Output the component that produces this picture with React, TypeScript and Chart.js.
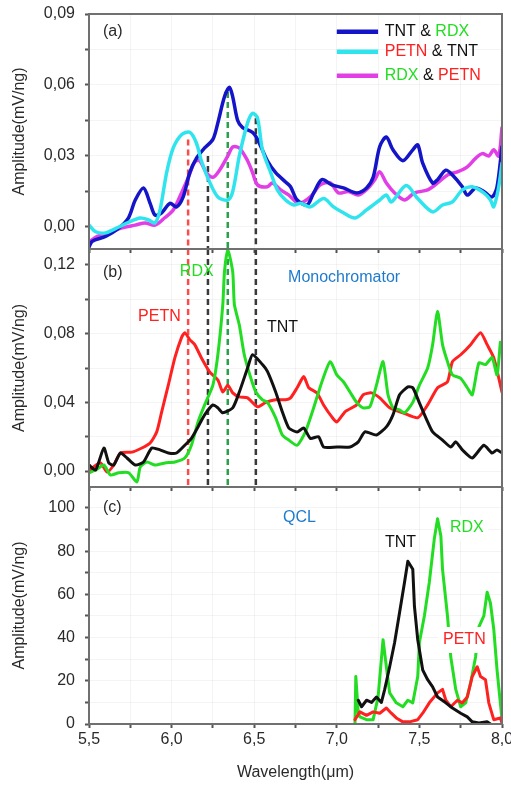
import React, { useEffect, useRef } from 'react';
import { Chart, registerables } from 'chart.js';

Chart.register(...registerables);

type Pt = [number, number];

// ---------- shared axis data ----------
const xRange: Pt = [5.5, 8.0];
const xTicks = [5.5, 5.75, 6.0, 6.25, 6.5, 6.75, 7.0, 7.25, 7.5, 7.75, 8.0];
const xTickLabels = ['5,5', '', '6,0', '', '6,5', '', '7,0', '', '7,5', '', '8,0'];
const xTitle = 'Wavelength(μm)';
const yTitle = 'Amplitude(mV/ng)';

// ---------- panel (a) ----------
const yRangeA: Pt = [-0.0093, 0.09];
const yTicksA = [0, 0.015, 0.03, 0.045, 0.06, 0.075, 0.09];
const yTickLabelsA = ['0,00', '', '0,03', '', '0,06', '', '0,09'];

const tntRdxA: Pt[] = [
  [5.50, -0.0085], [5.52, -0.006], [5.60, -0.004], [5.68, -0.0005], [5.74, 0.004], [5.78, 0.0114],
  [5.83, 0.0165], [5.87, 0.010], [5.90, 0.005], [5.94, 0.006], [5.99, 0.010], [6.03, 0.0085],
  [6.07, 0.0127], [6.11, 0.023], [6.15, 0.029], [6.20, 0.0334], [6.25, 0.037], [6.28, 0.044],
  [6.32, 0.055], [6.35, 0.059], [6.37, 0.055], [6.40, 0.045], [6.43, 0.042], [6.49, 0.040],
  [6.52, 0.037], [6.58, 0.028], [6.63, 0.023], [6.69, 0.019], [6.72, 0.017], [6.76, 0.0114],
  [6.82, 0.0093], [6.86, 0.0144], [6.91, 0.020], [6.97, 0.0178], [7.04, 0.0165], [7.12, 0.0144],
  [7.18, 0.0165], [7.22, 0.021], [7.26, 0.034], [7.30, 0.038], [7.34, 0.0326], [7.40, 0.028],
  [7.46, 0.0326], [7.49, 0.0347], [7.52, 0.027], [7.58, 0.0186], [7.61, 0.020], [7.66, 0.024],
  [7.70, 0.022], [7.76, 0.017], [7.79, 0.0135], [7.84, 0.0165], [7.89, 0.015], [7.94, 0.0127],
  [7.97, 0.017], [8.0, 0.034],
];
const petnTntA: Pt[] = [
  [5.50, 0.0008], [5.54, -0.002], [5.60, -0.0025], [5.68, 0], [5.74, 0.002], [5.81, 0.0038],
  [5.86, 0.003], [5.90, 0.0017], [5.93, 0.0072], [5.97, 0.023], [6.01, 0.0334], [6.06, 0.039],
  [6.11, 0.040], [6.15, 0.0355], [6.18, 0.028], [6.23, 0.019], [6.28, 0.0127], [6.34, 0.0114],
  [6.37, 0.015], [6.41, 0.030], [6.46, 0.044], [6.49, 0.048], [6.52, 0.046], [6.55, 0.0326],
  [6.60, 0.023], [6.64, 0.0157], [6.69, 0.0114], [6.74, 0.0093], [6.78, 0.010], [6.84, 0.0085],
  [6.92, 0.012], [6.98, 0.0085], [7.04, 0.006], [7.11, 0.0038], [7.18, 0.0072], [7.26, 0.0114],
  [7.30, 0.0135], [7.33, 0.0106], [7.42, 0.0175], [7.49, 0.012], [7.58, 0.0064], [7.64, 0.0093],
  [7.70, 0.0106], [7.76, 0.0157], [7.82, 0.017], [7.89, 0.0144], [7.93, 0.0114], [7.95, 0.0085],
  [7.98, 0.017], [8.0, 0.027],
];
const rdxPetnA: Pt[] = [
  [5.50, -0.0064], [5.55, -0.004], [5.62, -0.0025], [5.70, -0.0004], [5.78, 0.0008], [5.84, 0.0017],
  [5.90, 0.0008], [5.96, 0.004], [6.01, 0.0072], [6.06, 0.0144], [6.10, 0.0207], [6.14, 0.0275],
  [6.17, 0.028], [6.21, 0.023], [6.25, 0.021], [6.29, 0.024], [6.34, 0.030], [6.37, 0.0338],
  [6.41, 0.0334], [6.46, 0.028], [6.49, 0.023], [6.52, 0.0178], [6.58, 0.017], [6.61, 0.0186],
  [6.66, 0.0157], [6.71, 0.0135], [6.77, 0.010], [6.84, 0.0127], [6.90, 0.0178], [6.96, 0.0186],
  [7.01, 0.0144], [7.07, 0.015], [7.13, 0.0135], [7.19, 0.0165], [7.23, 0.020], [7.26, 0.0233],
  [7.30, 0.0186], [7.35, 0.0144], [7.41, 0.0114], [7.47, 0.0144], [7.55, 0.0157], [7.61, 0.0186],
  [7.67, 0.022], [7.73, 0.0233], [7.79, 0.0254], [7.84, 0.029], [7.88, 0.031], [7.92, 0.030],
  [7.95, 0.0326], [7.98, 0.030], [8.0, 0.042],
];

// dashed marker lines (wavelengths) shared by (a) and (b)
const markerX = [6.10, 6.22, 6.34, 6.51];
const markerTopA = [0.037, 0.030, 0.057, 0.046];

// ---------- panel (b) ----------
const yRangeB: Pt = [-0.0093, 0.1293];
const yTicksB = [0, 0.02, 0.04, 0.06, 0.08, 0.10, 0.12];
const yTickLabelsB = ['0,00', '', '0,04', '', '0,08', '', '0,12'];

const petnB: Pt[] = [
  [5.50, -0.001], [5.52, 0.0018], [5.57, 0.0047], [5.61, -0.0006], [5.65, 0.0035], [5.69, 0.0105],
  [5.76, 0.011], [5.82, 0.0134], [5.87, 0.0163], [5.91, 0.0228], [5.94, 0.0345], [5.98, 0.050],
  [6.02, 0.066], [6.06, 0.0777], [6.08, 0.0806], [6.11, 0.0765], [6.14, 0.0736], [6.18, 0.066],
  [6.23, 0.0578], [6.28, 0.053], [6.31, 0.046], [6.34, 0.050], [6.37, 0.0455], [6.41, 0.0432],
  [6.46, 0.0426], [6.52, 0.0374], [6.57, 0.040], [6.63, 0.0415], [6.69, 0.0415], [6.72, 0.0426],
  [6.76, 0.0485], [6.80, 0.055], [6.83, 0.0485], [6.88, 0.0455], [6.92, 0.0385], [6.97, 0.0315],
  [7.00, 0.0286], [7.05, 0.0345], [7.12, 0.0385], [7.16, 0.0444], [7.21, 0.0455], [7.26, 0.0426],
  [7.32, 0.0368], [7.40, 0.0339], [7.49, 0.031], [7.55, 0.0385], [7.61, 0.0485], [7.67, 0.052],
  [7.70, 0.0637], [7.75, 0.0677], [7.81, 0.0736], [7.87, 0.0806], [7.91, 0.0736], [7.95, 0.066],
  [8.0, 0.046],
];
const tntB: Pt[] = [
  [5.50, 0.0035], [5.54, 0.0006], [5.59, 0.0134], [5.62, 0.0047], [5.65, 0.0035], [5.69, 0.0105],
  [5.73, 0.0076], [5.78, 0.0035], [5.83, 0.0053], [5.88, 0.0134], [5.93, 0.0123], [5.98, 0.0105],
  [6.03, 0.0105], [6.08, 0.015], [6.12, 0.019], [6.16, 0.0257], [6.20, 0.0327], [6.25, 0.0385],
  [6.28, 0.0368], [6.31, 0.0339], [6.37, 0.0368], [6.41, 0.046], [6.46, 0.060], [6.49, 0.0677],
  [6.55, 0.062], [6.58, 0.058], [6.63, 0.046], [6.67, 0.0345], [6.71, 0.025], [6.76, 0.0228],
  [6.80, 0.025], [6.84, 0.019], [6.89, 0.020], [6.92, 0.014], [7.00, 0.014], [7.08, 0.014],
  [7.13, 0.017], [7.17, 0.0228], [7.24, 0.021], [7.30, 0.0257], [7.34, 0.0327], [7.38, 0.0444],
  [7.43, 0.049], [7.46, 0.0485], [7.50, 0.0397], [7.55, 0.0286], [7.58, 0.0228], [7.64, 0.018],
  [7.69, 0.014], [7.72, 0.017], [7.76, 0.0123], [7.82, 0.0076], [7.89, 0.015], [7.94, 0.0105],
  [7.97, 0.0123], [8.0, 0.0105],
];
const rdxB: Pt[] = [
  [5.50, -0.001], [5.54, 0.0006], [5.59, 0.0035], [5.63, -0.0023], [5.68, -0.001], [5.74, -0.001],
  [5.79, -0.0064], [5.81, 0.0023], [5.85, 0.0053], [5.90, 0.0035], [5.96, 0.0047], [6.02, 0.0053],
  [6.08, 0.0076], [6.12, 0.015], [6.16, 0.0286], [6.20, 0.0385], [6.25, 0.050], [6.28, 0.0677],
  [6.31, 0.097], [6.32, 0.116], [6.34, 0.129], [6.37, 0.116], [6.38, 0.097], [6.41, 0.085],
  [6.44, 0.0677], [6.48, 0.054], [6.51, 0.046], [6.55, 0.0415], [6.58, 0.040], [6.63, 0.031],
  [6.67, 0.021], [6.71, 0.018], [6.76, 0.015], [6.81, 0.0228], [6.86, 0.0368], [6.91, 0.052],
  [6.96, 0.0637], [7.00, 0.056], [7.04, 0.052], [7.08, 0.046], [7.12, 0.040], [7.16, 0.0368],
  [7.20, 0.0374], [7.24, 0.050], [7.28, 0.0637], [7.31, 0.0444], [7.34, 0.0368], [7.38, 0.0356],
  [7.41, 0.0339], [7.46, 0.040], [7.50, 0.050], [7.55, 0.060], [7.58, 0.0736], [7.61, 0.093],
  [7.64, 0.0736], [7.67, 0.0637], [7.70, 0.056], [7.75, 0.054], [7.79, 0.0485], [7.82, 0.0444],
  [7.86, 0.063], [7.90, 0.062], [7.94, 0.066], [7.97, 0.056], [7.99, 0.075],
];

// ---------- panel (c) ----------
const yRangeC: Pt = [0, 109.7];
const yTicksC = [0, 10, 20, 30, 40, 50, 60, 70, 80, 90, 100];
const yTickLabelsC = ['0', '', '20', '', '40', '', '60', '', '80', '', '100'];

const tntC: Pt[] = [
  [7.13, 11], [7.15, 8], [7.18, 11], [7.21, 10], [7.24, 12.5], [7.27, 10], [7.29, 16], [7.32, 26.5],
  [7.35, 37.7], [7.38, 51.6], [7.41, 65.6], [7.43, 75.3], [7.46, 71.6], [7.47, 54.4], [7.49, 39],
  [7.52, 25], [7.55, 20.5], [7.58, 17.2], [7.61, 12.5], [7.66, 9.8], [7.70, 7.4], [7.75, 5],
  [7.79, 3.3], [7.82, 1], [7.86, 0.5], [7.91, 1], [7.93, 0],
];
const rdxC: Pt[] = [
  [7.11, 0], [7.115, 22], [7.13, 5], [7.14, 3.3], [7.18, 2], [7.22, 2], [7.25, 12.5], [7.28, 39],
  [7.30, 26.5], [7.32, 14.4], [7.36, 9.8], [7.40, 8], [7.43, 11], [7.46, 9.8], [7.49, 22],
  [7.50, 37.7], [7.53, 50], [7.56, 65.6], [7.59, 85.6], [7.61, 95], [7.63, 87], [7.64, 71.6],
  [7.67, 50], [7.69, 31], [7.72, 16], [7.75, 8], [7.78, 9.8], [7.81, 19], [7.84, 31], [7.86, 45],
  [7.89, 50], [7.91, 61], [7.93, 56], [7.95, 44], [7.97, 25], [7.99, 9.8], [8.0, 2],
];
const petnC: Pt[] = [
  [7.11, 2], [7.14, 5.6], [7.18, 4], [7.22, 5.6], [7.26, 5], [7.30, 7.4], [7.33, 5], [7.36, 2.8],
  [7.40, 1], [7.44, 1], [7.49, 2], [7.52, 5], [7.56, 9.8], [7.61, 14.4], [7.64, 16], [7.66, 11],
  [7.69, 8], [7.73, 11], [7.76, 9.8], [7.79, 12.5], [7.82, 22], [7.85, 26.5], [7.87, 22],
  [7.90, 20.5], [7.92, 9.8], [7.95, 2], [7.99, 2.8], [8.0, 0.5],
];

// ---------- styles ----------
const W = 511;
const H = 785;
const FONT = '"Liberation Sans", Arial, Helvetica, sans-serif';
const GREEN = '#22dd22';
const RED = '#ff2020';
const BLACK = '#111111';
const NAVY = '#1414c8';
const CYAN = '#30e4ee';
const MAGENTA = '#e23ee6';
const LABEL_BLUE = '#1f7acc';
const TEXT = '#2a2a2a';
const TICK = '#555555';
const FRAME = '#707070';
const GRIDC = 'rgba(0,0,0,0.045)';
const PLOT_LEFT = 89;
const PLOT_RIGHT = 502;

interface Curve { data: Pt[]; color: string; width: number; tension: number }
interface Dash { x: number; top: number; bottom: number; color: string }
type Part = [string, string];
interface Note { x: number; y: number; parts: Part[]; box?: boolean; line?: string; lineFrom?: number; lineTo?: number }
interface PanelSpec {
  id: string; top: number; bottom: number; isBottom: boolean;
  yRange: Pt; yTicks: number[]; yLabels: string[];
  curves: Curve[]; dashes: Dash[]; notes: Note[];
}

const dashColors = ['#ff4a4a', '#3a3a3a', '#2aa04a', '#3a3a3a'];

const panels: PanelSpec[] = [
  {
    id: 'a', top: 14, bottom: 249, isBottom: false,
    yRange: yRangeA, yTicks: yTicksA, yLabels: yTickLabelsA,
    curves: [
      { data: petnTntA, color: CYAN, width: 3.5, tension: 0.3 },
      { data: tntRdxA, color: NAVY, width: 3.5, tension: 0.3 },
      { data: rdxPetnA, color: MAGENTA, width: 3.5, tension: 0.3 },
    ],
    dashes: markerX.map((x, i) => ({ x, top: markerTopA[i], bottom: yRangeA[0], color: dashColors[i] })),
    notes: [
      { x: 5.585, y: 0.0825, parts: [['(a)', TEXT]] },
      { x: 7.29, y: 0.0825, parts: [['TNT', BLACK], [' & ', BLACK], ['RDX', GREEN]], line: NAVY, lineFrom: 7.0, lineTo: 7.25 },
      { x: 7.29, y: 0.074, parts: [['PETN', RED], [' & ', BLACK], ['TNT', BLACK]], line: CYAN, lineFrom: 7.0, lineTo: 7.25 },
      { x: 7.29, y: 0.0639, parts: [['RDX', GREEN], [' & ', BLACK], ['PETN', RED]], line: MAGENTA, lineFrom: 7.0, lineTo: 7.25 },
    ],
  },
  {
    id: 'b', top: 249, bottom: 487, isBottom: false,
    yRange: yRangeB, yTicks: yTicksB, yLabels: yTickLabelsB,
    curves: [
      { data: tntB, color: BLACK, width: 3, tension: 0.2 },
      { data: rdxB, color: GREEN, width: 3, tension: 0.2 },
      { data: petnB, color: RED, width: 3, tension: 0.2 },
    ],
    dashes: markerX.map((x, i) => ({ x, top: yRangeB[1], bottom: yRangeB[0], color: dashColors[i] })),
    notes: [
      { x: 5.585, y: 0.1155, parts: [['(b)', TEXT]] },
      { x: 6.05, y: 0.116, parts: [['RDX', GREEN]] },
      { x: 5.797, y: 0.0898, parts: [['PETN', RED]] },
      { x: 6.577, y: 0.0834, parts: [['TNT', BLACK]] },
      { x: 6.705, y: 0.1125, parts: [['Monochromator', LABEL_BLUE]] },
    ],
  },
  {
    id: 'c', top: 487, bottom: 724, isBottom: true,
    yRange: yRangeC, yTicks: yTicksC, yLabels: yTickLabelsC,
    curves: [
      { data: tntC, color: BLACK, width: 3, tension: 0 },
      { data: petnC, color: RED, width: 3, tension: 0 },
      { data: rdxC, color: GREEN, width: 3, tension: 0 },
    ],
    dashes: [],
    notes: [
      { x: 5.585, y: 100, parts: [['(c)', TEXT]] },
      { x: 6.674, y: 95.4, parts: [['QCL', LABEL_BLUE]] },
      { x: 7.292, y: 83.8, parts: [['TNT', BLACK]] },
      { x: 7.685, y: 90.7, parts: [['RDX', GREEN]], box: true },
      { x: 7.643, y: 38.9, parts: [['PETN', RED]], box: true },
    ],
  },
];

function makePlugins(spec: PanelSpec) {
  const frame = {
    id: 'frame' + spec.id,
    afterDraw(chart: any) {
      const { ctx, chartArea: a } = chart;
      ctx.save();
      ctx.strokeStyle = FRAME;
      ctx.lineWidth = 2;
      ctx.strokeRect(a.left, a.top, a.right - a.left, a.bottom - a.top);
      ctx.restore();
    },
  };
  const notes = {
    id: 'notes' + spec.id,
    afterDatasetsDraw(chart: any) {
      const { ctx } = chart;
      const xs = chart.scales.x;
      const ys = chart.scales.y;
      ctx.save();
      ctx.font = `16px ${FONT}`;
      ctx.textBaseline = 'middle';
      ctx.textAlign = 'left';
      for (const n of spec.notes) {
        const px = xs.getPixelForValue(n.x);
        const py = ys.getPixelForValue(n.y);
        const total = n.parts.reduce((s, p) => s + ctx.measureText(p[0]).width, 0);
        if (n.box) {
          ctx.fillStyle = '#ffffff';
          ctx.fillRect(px - 5, py - 13, total + 10, 26);
        }
        if (n.line && n.lineFrom !== undefined && n.lineTo !== undefined) {
          ctx.strokeStyle = n.line;
          ctx.lineWidth = 4.5;
          ctx.lineCap = 'butt';
          ctx.beginPath();
          ctx.moveTo(xs.getPixelForValue(n.lineFrom), py);
          ctx.lineTo(xs.getPixelForValue(n.lineTo), py);
          ctx.stroke();
        }
        let cx = px;
        for (const [t, c] of n.parts) {
          ctx.fillStyle = c;
          ctx.fillText(t, cx, py);
          cx += ctx.measureText(t).width;
        }
      }
      ctx.restore();
    },
  };
  return [frame, notes];
}

function buildConfig(spec: PanelSpec): any {
  const font = { family: FONT, size: 16 };
  const xAxisHeight = spec.isBottom ? H - spec.bottom : 4;
  const datasets: any[] = [
    ...spec.curves.map((c) => ({
      data: c.data.map(([x, y]) => ({ x, y })),
      borderColor: c.color,
      backgroundColor: c.color,
      borderWidth: c.width,
      tension: c.tension,
      pointRadius: 0,
      fill: false,
      borderJoinStyle: 'round',
      borderCapStyle: 'round',
    })),
    ...spec.dashes.map((d) => ({
      data: [{ x: d.x, y: d.top }, { x: d.x, y: d.bottom }],
      borderColor: d.color,
      borderWidth: 2.5,
      borderDash: [6, 4],
      pointRadius: 0,
      fill: false,
      tension: 0,
    })),
  ];
  return {
    type: 'line',
    data: { datasets },
    options: {
      animation: false,
      responsive: false,
      maintainAspectRatio: false,
      events: [],
      layout: {
        padding: {
          left: 0,
          right: W - PLOT_RIGHT,
          top: spec.top,
          bottom: H - spec.bottom - xAxisHeight,
        },
      },
      plugins: { legend: { display: false }, tooltip: { enabled: false } },
      scales: {
        x: {
          type: 'linear',
          min: xRange[0],
          max: xRange[1],
          afterBuildTicks: (s: any) => { s.ticks = xTicks.map((v) => ({ value: v })); },
          afterFit: (s: any) => { s.height = xAxisHeight; s.paddingLeft = 0; s.paddingRight = 0; },
          ticks: {
            display: spec.isBottom,
            autoSkip: false,
            maxRotation: 0,
            padding: 2,
            color: TEXT,
            font,
            callback: (_v: any, i: number) => xTickLabels[i] ?? '',
          },
          grid: { color: GRIDC, tickColor: TICK, tickLength: 4, tickWidth: 2, lineWidth: 1 },
          border: { display: false },
          title: spec.isBottom
            ? { display: true, text: xTitle, color: TEXT, font, padding: { top: 0, bottom: 2.4 } }
            : { display: false },
        },
        y: {
          type: 'linear',
          min: spec.yRange[0],
          max: spec.yRange[1],
          afterBuildTicks: (s: any) => { s.ticks = spec.yTicks.map((v) => ({ value: v })); },
          afterFit: (s: any) => { s.width = PLOT_LEFT; s.paddingTop = 0; s.paddingBottom = 0; },
          ticks: {
            autoSkip: false,
            padding: 10,
            color: TEXT,
            font,
            callback: (_v: any, i: number) => spec.yLabels[i] ?? '',
          },
          grid: { color: GRIDC, tickColor: TICK, tickLength: 4, tickWidth: 2, lineWidth: 1 },
          border: { display: false },
          title: { display: true, text: yTitle, color: TEXT, font, padding: { top: 10, bottom: 0 } },
        },
      },
    },
    plugins: makePlugins(spec),
  };
}

function Panel({ spec }: { spec: PanelSpec }) {
  const ref = useRef<HTMLCanvasElement>(null);
  useEffect(() => {
    if (!ref.current) return;
    const chart = new Chart(ref.current, buildConfig(spec));
    return () => chart.destroy();
  }, [spec]);
  return (
    <canvas
      ref={ref}
      width={W}
      height={H}
      style={{ position: 'absolute', left: 0, top: 0, width: W, height: H }}
    />
  );
}

export default function App() {
  return (
    <div style={{ position: 'fixed', left: 0, top: 0, width: W, height: H, background: '#ffffff', overflow: 'hidden' }}>
      {panels.map((p) => <Panel key={p.id} spec={p} />)}
    </div>
  );
}
